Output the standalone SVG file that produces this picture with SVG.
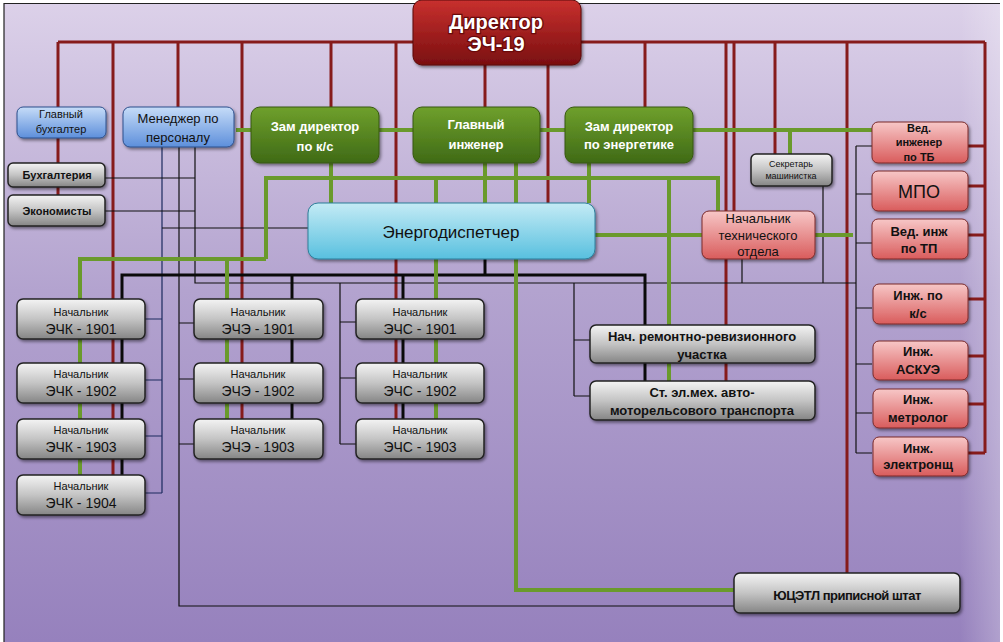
<svg xmlns="http://www.w3.org/2000/svg" width="1003" height="642" viewBox="0 0 1003 642">
<defs>
<linearGradient id="bg" x1="0" y1="0" x2="0" y2="1"><stop offset="0" stop-color="#dcd1e9"/><stop offset="0.45" stop-color="#b3a3cf"/><stop offset="1" stop-color="#9681bd"/></linearGradient>
<linearGradient id="bgr" x1="0" y1="0" x2="1" y2="0"><stop offset="0" stop-color="#ffffff" stop-opacity="0"/><stop offset="1" stop-color="#ffffff" stop-opacity="0.25"/></linearGradient>
<linearGradient id="gRed" x1="0" y1="0" x2="0" y2="1"><stop offset="0" stop-color="#c8302e"/><stop offset="1" stop-color="#7a0f10"/></linearGradient>
<linearGradient id="gGreen" x1="0" y1="0" x2="0" y2="1"><stop offset="0" stop-color="#6fa02c"/><stop offset="1" stop-color="#3f6a16"/></linearGradient>
<linearGradient id="gBlue" x1="0" y1="0" x2="0" y2="1"><stop offset="0" stop-color="#c6dcf8"/><stop offset="1" stop-color="#5d8fdb"/></linearGradient>
<linearGradient id="gCyan" x1="0" y1="0" x2="0" y2="1"><stop offset="0" stop-color="#c4ebf5"/><stop offset="1" stop-color="#58c0df"/></linearGradient>
<linearGradient id="gGray" x1="0" y1="0" x2="0" y2="1"><stop offset="0" stop-color="#f4f4f4"/><stop offset="0.5" stop-color="#c4c4c4"/><stop offset="1" stop-color="#858585"/></linearGradient>
<linearGradient id="gPink" x1="0" y1="0" x2="0" y2="1"><stop offset="0" stop-color="#f7c7c7"/><stop offset="1" stop-color="#d95c5c"/></linearGradient>
<filter id="sh" x="-10%" y="-10%" width="130%" height="140%"><feDropShadow dx="1.5" dy="2" stdDeviation="1.5" flood-color="#000" flood-opacity="0.45"/></filter>
</defs>
<style>
.r{stroke:#861b1b;stroke-width:3;fill:none}
.g{stroke:#6a9a2c;stroke-width:4;fill:none}
.k{stroke:#0a0a0a;stroke-width:3;fill:none}
.t{stroke:#111;stroke-width:1.2;fill:none}
.nr{fill:url(#gRed);stroke:#5a0a0a;stroke-width:1;filter:url(#sh)}
.ng{fill:url(#gGreen);stroke:#36590f;stroke-width:1;filter:url(#sh)}
.nb{fill:url(#gBlue);stroke:#2d4f8c;stroke-width:1;filter:url(#sh)}
.nc{fill:url(#gCyan);stroke:#2f7f9a;stroke-width:1;filter:url(#sh)}
.ny{fill:url(#gGray);stroke:#222;stroke-width:1.5;filter:url(#sh)}
.np{fill:url(#gPink);stroke:#7a2a2a;stroke-width:1;filter:url(#sh)}
text{font-family:"Liberation Sans",Arial,sans-serif;text-anchor:middle;dominant-baseline:central;fill:#111}
.w{fill:#fff;font-weight:bold;font-size:13px}
.dir{fill:#fff;stroke:#6a0a0a;stroke-width:2.5;paint-order:stroke;font-weight:bold;font-size:20px}
.s11{font-size:11px}
.s13{font-size:13px}
.b{font-weight:bold}
.nm{font-size:11px}
.code{font-size:14px}
</style>
<rect x="0" y="0" width="1003" height="642" fill="#ffffff"/>
<rect x="4" y="3" width="996" height="639" fill="url(#bg)"/>
<rect x="960" y="3" width="40" height="639" fill="url(#bgr)"/>
<path d="M4,642 V3.5 H1000" stroke="#222" stroke-width="1.2" fill="none"/>

<g id="connectors">
<path class="r" d="M58,42 H985"/>
<path class="r" d="M58,42 V195"/>
<path class="r" d="M113,42 V475"/>
<path class="r" d="M178,42 V107"/>
<path class="r" d="M242,42 V419"/>
<path class="r" d="M331,42 V107"/>
<path class="r" d="M396,42 V419"/>
<path class="r" d="M485,65 V107"/>
<path class="r" d="M548,65 V203"/>
<path class="r" d="M645,42 V107"/>
<path class="r" d="M726,42 V381"/>
<path class="r" d="M734,42 V211"/>
<path class="r" d="M775,42 V154"/>
<path class="r" d="M847,42 V573"/>
<path class="r" d="M985,42 V453"/>
<path class="r" d="M968,146 H985 M968,186 H985 M968,235 H985 M968,299 H985 M968,356 H985 M968,404 H985 M968,453 H985"/>

<path class="t" d="M162,147 V493 M145,319 H162 M145,380 H162 M145,436 H162 M145,493 H162" style="stroke:#1c2a5e"/>
<path class="t" d="M179,147 V606 H734"/>
<path class="t" d="M195,147 V283 H856"/>
<path class="t" d="M105,178 H195 M105,211 H195"/>
<path class="t" d="M162,228 H308"/>
<path class="t" d="M179,323 H194 M179,379 H194 M179,444 H194"/>
<path class="t" d="M340,283 V444 M340,322 H356 M340,378 H356 M340,444 H356"/>
<path class="t" d="M574,283 V396 M574,340 H590 M574,396 H590"/>
<path class="t" d="M742,259 V283"/>
<path class="t" d="M823,186 V283"/>
<path class="t" d="M856,146 V453 M856,146 H872 M856,194 H872 M856,243 H872 M856,308 H872 M856,364 H872 M856,413 H872 M856,453 H872"/>

<path class="k" d="M122,475 V275 H645 V381"/>
<path class="k" d="M485,259 V275"/>
<path class="k" d="M292,275 V419"/>
<path class="k" d="M403,275 V419"/>

<path class="g" d="M236,130 H872"/>
<path class="g" d="M790,130 V154"/>
<path class="g" d="M331,163 V203"/>
<path class="g" d="M266,259 V178 H718 V211"/>
<path class="g" d="M80,475 V259 H266"/>
<path class="g" d="M227,259 V419"/>
<path class="g" d="M485,163 V203 M516,163 V203"/>
<path class="g" d="M436,178 V203 M436,259 V419"/>
<path class="g" d="M589,163 V203"/>
<path class="g" d="M669,178 V381"/>
<path class="g" d="M595,235 H703 M815,235 H853"/>
<path class="g" d="M516,259 V590 H734"/>
</g>

<g id="n-director"><rect class="nr" x="413" y="0" width="168" height="65" rx="9"/><text class="dir" x="496" y="22">Директор</text><text class="dir" x="496" y="44">ЭЧ-19</text></g>

<g id="n-glbuh"><rect class="nb" x="17" y="107" width="89" height="31" rx="6"/><text class="s11" x="61" y="114">Главный</text><text class="s11" x="61" y="129">бухгалтер</text></g>
<g id="n-manager"><rect class="nb" x="123" y="107" width="111" height="40" rx="7"/><text class="s13" x="178" y="118">Менеджер по</text><text class="s13" x="178" y="137">персоналу</text></g>
<g id="n-zamks"><rect class="ng" x="251" y="107" width="128" height="56" rx="9"/><text class="w" x="315" y="126">Зам директор</text><text class="w" x="315" y="146">по к/с</text></g>
<g id="n-glinzh"><rect class="ng" x="413" y="107" width="127" height="56" rx="9"/><text class="w" x="476" y="124">Главный</text><text class="w" x="476" y="144">инженер</text></g>
<g id="n-zamen"><rect class="ng" x="565" y="107" width="128" height="56" rx="9"/><text class="w" x="629" y="126">Зам директор</text><text class="w" x="629" y="144">по энергетике</text></g>

<g id="n-buh"><rect class="ny" x="8" y="163" width="97" height="24" rx="5"/><text class="s11 b" x="57" y="175">Бухгалтерия</text></g>
<g id="n-econ"><rect class="ny" x="8" y="195" width="97" height="31" rx="5"/><text class="s11 b" x="57" y="211">Экономисты</text></g>

<g id="n-energo"><rect class="nc" x="308" y="203" width="287" height="56" rx="10"/><text x="451" y="232" style="font-size:17px">Энергодиспетчер</text></g>

<g id="n-secr"><rect class="ny" x="751" y="154" width="81" height="32" rx="5"/><text x="791" y="164" style="font-size:9px">Секретарь</text><text x="791" y="176" style="font-size:9px">машинистка</text></g>
<g id="n-nto"><rect class="np" x="702" y="211" width="113" height="48" rx="7"/><text class="s13" x="758" y="218">Начальник</text><text class="s13" x="758" y="235">технического</text><text class="s13" x="758" y="251">отдела</text></g>

<g id="n-tb"><rect class="np" x="872" y="122" width="96" height="41" rx="6"/><text class="s11 b" x="919" y="128">Вед.</text><text class="s11 b" x="919" y="142">инженер</text><text class="s11 b" x="919" y="157">по ТБ</text></g>
<g id="n-mpo"><rect class="np" x="872" y="171" width="96" height="40" rx="6"/><text x="919" y="192" style="font-size:18px">МПО</text></g>
<g id="n-tp"><rect class="np" x="872" y="219" width="96" height="40" rx="6"/><text class="s13 b" x="919" y="231">Вед. инж</text><text class="s13 b" x="919" y="248">по ТП</text></g>
<g id="n-ks"><rect class="np" x="873" y="284" width="95" height="40" rx="6"/><text class="s13 b" x="918" y="295">Инж. по</text><text class="s13 b" x="918" y="313">к/с</text></g>
<g id="n-askue"><rect class="np" x="873" y="341" width="95" height="39" rx="6"/><text class="s13 b" x="918" y="351">Инж.</text><text class="s13 b" x="918" y="369">АСКУЭ</text></g>
<g id="n-metr"><rect class="np" x="873" y="389" width="95" height="39" rx="6"/><text class="s13 b" x="918" y="399">Инж.</text><text class="s13 b" x="918" y="417">метролог</text></g>
<g id="n-elec"><rect class="np" x="873" y="437" width="95" height="39" rx="6"/><text class="s13 b" x="918" y="448">Инж.</text><text class="s13 b" x="918" y="464">электронщ</text></g>

<g id="n-echk1901"><rect class="ny" x="17" y="299" width="128" height="40" rx="6"/><text class="nm" x="81" y="312">Начальник</text><text class="code" x="81" y="329">ЭЧК - 1901</text></g>
<g id="n-echk1902"><rect class="ny" x="17" y="363" width="128" height="40" rx="6"/><text class="nm" x="81" y="374">Начальник</text><text class="code" x="81" y="391">ЭЧК - 1902</text></g>
<g id="n-echk1903"><rect class="ny" x="17" y="419" width="128" height="40" rx="6"/><text class="nm" x="81" y="430">Начальник</text><text class="code" x="81" y="447">ЭЧК - 1903</text></g>
<g id="n-echk1904"><rect class="ny" x="17" y="475" width="128" height="40" rx="6"/><text class="nm" x="81" y="486">Начальник</text><text class="code" x="81" y="503">ЭЧК - 1904</text></g>

<g id="n-eche1901"><rect class="ny" x="194" y="299" width="129" height="40" rx="6"/><text class="nm" x="258" y="312">Начальник</text><text class="code" x="258" y="329">ЭЧЭ - 1901</text></g>
<g id="n-eche1902"><rect class="ny" x="194" y="363" width="129" height="40" rx="6"/><text class="nm" x="258" y="374">Начальник</text><text class="code" x="258" y="391">ЭЧЭ - 1902</text></g>
<g id="n-eche1903"><rect class="ny" x="194" y="419" width="129" height="40" rx="6"/><text class="nm" x="258" y="430">Начальник</text><text class="code" x="258" y="447">ЭЧЭ - 1903</text></g>

<g id="n-echs1901"><rect class="ny" x="356" y="299" width="128" height="40" rx="6"/><text class="nm" x="420" y="312">Начальник</text><text class="code" x="420" y="329">ЭЧС - 1901</text></g>
<g id="n-echs1902"><rect class="ny" x="356" y="363" width="128" height="40" rx="6"/><text class="nm" x="420" y="374">Начальник</text><text class="code" x="420" y="391">ЭЧС - 1902</text></g>
<g id="n-echs1903"><rect class="ny" x="356" y="419" width="128" height="40" rx="6"/><text class="nm" x="420" y="430">Начальник</text><text class="code" x="420" y="447">ЭЧС - 1903</text></g>

<g id="n-rem"><rect class="ny" x="590" y="325" width="225" height="38" rx="6"/><text class="s13 b" x="702" y="336">Нач. ремонтно-ревизионного</text><text class="s13 b" x="702" y="354">участка</text></g>
<g id="n-stel"><rect class="ny" x="590" y="381" width="225" height="39" rx="6"/><text class="s13 b" x="702" y="392">Ст. эл.мех. авто-</text><text class="s13 b" x="702" y="410">моторельсового транспорта</text></g>

<g id="n-yuts"><rect class="ny" x="734" y="573" width="226" height="40" rx="6"/><text class="s13 b" x="847" y="595" style="letter-spacing:-0.5px">ЮЦЭТЛ приписной штат</text></g>
</svg>
